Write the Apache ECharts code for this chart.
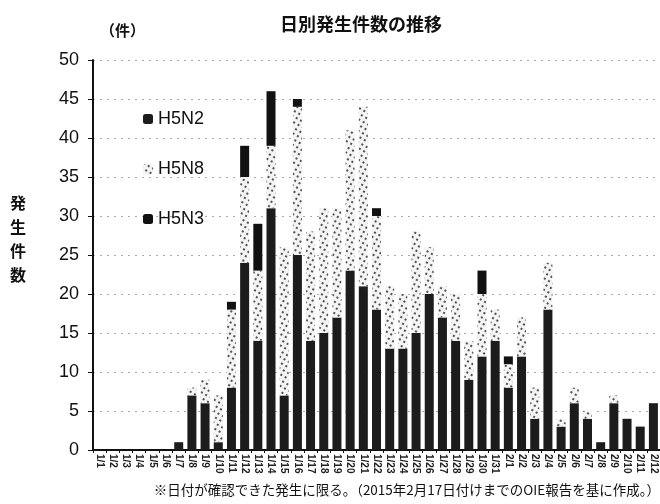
<!DOCTYPE html>
<html><head><meta charset="utf-8">
<script src="https://cdn.jsdelivr.net/npm/echarts@6/dist/echarts.min.js"></script>
<style>html,body{margin:0;padding:0;background:#fff}#c{width:660px;height:504px}</style>
</head><body><div id="c"></div>
<script>
const categories = ['1/1','1/2','1/3','1/4','1/5','1/6','1/7','1/8','1/9','1/10','1/11','1/12','1/13','1/14','1/15','1/16','1/17','1/18','1/19','1/20','1/21','1/22','1/23','1/24','1/25','1/26','1/27','1/28','1/29','1/30','1/31','2/1','2/2','2/3','2/4','2/5','2/6','2/7','2/8','2/9','2/10','2/11','2/12'];
const h5n2 = [0,0,0,0,0,0,1,7,6,1,8,24,14,31,7,25,14,15,17,23,21,18,13,13,15,20,17,14,9,12,14,8,12,4,18,3,6,4,1,6,4,3,6];
const h5n8 = [0,0,0,0,0,0,0,1,3,6,10,11,9,8,19,19,14,16,14,18,23,12,8,7,13,6,4,6,5,8,4,3,5,4,6,1,2,1,0,1,0,0,0];
const h5n3 = [0,0,0,0,0,0,0,0,0,0,1,4,6,7,0,1,0,0,0,0,0,1,0,0,0,0,0,0,0,3,0,1,0,0,0,0,0,0,0,0,0,0,0];
const yTicks = {min:0, max:50, interval:5};

const chart = echarts.init(document.getElementById('c'), null, {renderer:'canvas'});
const font = 'Liberation Sans, Arial, sans-serif';
const jp = 'Noto Sans CJK JP, sans-serif';
function z(a){return a.map(v=>v===0?null:v);}
chart.setOption({
  animation:false,
  backgroundColor:'#fff',
  title:{text:'日別発生件数の推移', left:356, top:10, textAlign:'center',
    textStyle:{fontFamily:jp, fontSize:18, fontWeight:'bold', color:'#111'}},
  graphic:[
    {type:'text', left:100, top:23, style:{text:'（件）', font:'bold 15px Noto Sans CJK JP', fill:'#111'}},
    {type:'text', left:10, top:191, style:{text:'発\n生\n件\n数', font:'bold 16px Noto Sans CJK JP', fill:'#111', lineHeight:24}},
    {type:'text', right:0, top:483, style:{text:'※日付が確認できた発生に限る。（2015年2月17日付けまでのOIE報告を基に作成。）', font:'13.5px Noto Sans CJK JP', fill:'#111'}}
  ],
  legend:{orient:'vertical', left:138, top:105, itemGap:32, itemWidth:10, itemHeight:10,
    data:['H5N2','H5N8','H5N3'],
    textStyle:{fontFamily:font, fontSize:18, color:'#111'}},
  grid:{left:93, right:-7, top:60, bottom:54, containLabel:false},
  xAxis:{type:'category', data:categories,
    axisLine:{lineStyle:{color:'#111', width:2}},
    axisTick:{show:true, length:3, lineStyle:{color:'#111'}},
    axisLabel:{rotate:-90, interval:0, fontFamily:font, fontSize:10, fontWeight:'bold', color:'#222', margin:4}},
  yAxis:{type:'value', min:yTicks.min, max:yTicks.max, interval:yTicks.interval,
    axisLine:{show:true, lineStyle:{color:'#111', width:2}},
    axisTick:{show:true, length:5, lineStyle:{color:'#111'}},
    axisLabel:{fontFamily:font, fontSize:18, color:'#111', margin:14},
    splitLine:{lineStyle:{color:'#aaa', type:[2,5], width:1}}},
  series:[
    {name:'H5N2', type:'bar', stack:'a', data:z(h5n2), barWidth:9,
      itemStyle:{color:'#1c1c1c'}},
    {name:'H5N8', type:'bar', stack:'a', data:z(h5n8), barWidth:9,
      itemStyle:{color:'#f4f4f4', decal:{symbol:'rect', symbolSize:1, color:'rgba(40,40,40,0.8)', dashArrayX:[[2,3]], dashArrayY:[2,3], rotation:-Math.PI/3}}},
    {name:'H5N3', type:'bar', stack:'a', data:z(h5n3), barWidth:9,
      itemStyle:{color:'#111'}}
  ]
});
</script></body></html>
